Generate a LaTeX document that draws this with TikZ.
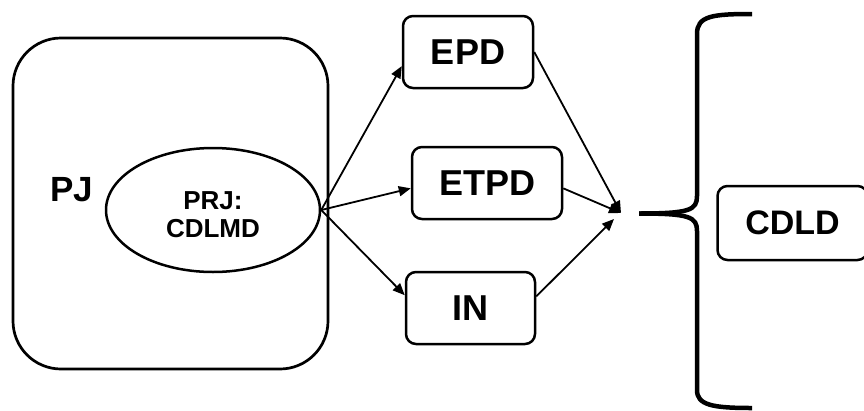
\documentclass[tikz,border=0pt]{standalone}
\usepackage{fontspec}
\setmainfont{Liberation Sans}
\usetikzlibrary{arrows.meta,shapes.geometric}
\begin{document}
\begin{tikzpicture}[x=1pt,y=-1pt,
  box/.style={draw,line width=2.5pt,rounded corners=10pt,inner sep=0pt,
    font=\bfseries\fontsize{36}{40}\selectfont},
  arr/.style={line width=1.8pt,-{Triangle[length=12pt,width=10pt]}},
  lbl/.style={inner sep=0pt,align=center}]
\useasboundingbox (0,0) rectangle (864,410);
\clip (0,0) rectangle (864,410);
% big rounded box
\node[draw,line width=2.7pt,rounded corners=48pt,minimum width=315pt,minimum height=331pt] (PJbox) at (170.5,203.5) {};
\node[lbl,font=\bfseries\fontsize{35}{38}\selectfont] (PJ) at (72,190) {PJ};
\node[draw,ellipse,line width=2.5pt,minimum width=214pt,minimum height=124pt,inner sep=0pt] (PRJ) at (213,210) {};
\node[lbl,font=\bfseries\fontsize{26}{27.5}\selectfont] (PRJt) at (213,214.5) {PRJ:\\CDLMD};
% boxes
\node[box,minimum width=130pt,minimum height=72pt] (EPD) at (468,52) {EPD};
\node[box,minimum width=150pt,minimum height=72pt] (ETPD) at (487,183) {ETPD};
\node[box,minimum width=129pt,minimum height=72pt] (IN) at (470.5,308) {IN};
\node[box,minimum width=150pt,minimum height=74pt,font=\bfseries\fontsize{34}{38}\selectfont] (CDLD) at (792.5,223) {CDLD};
% arrows
\coordinate (J1) at (621,213);
\coordinate (J2) at (614,219);
\draw[arr] (PRJ.east) -- (EPD.192);
\draw[arr] (PRJ.east) -- (ETPD.184);
\draw[arr] (PRJ.east) -- (IN.169);
\draw[arr] (EPD.east) -- (J1);
\draw[arr] (ETPD.-4) -- (J1);
\draw[arr] (IN.10) -- (J2);
% brace
\draw[line width=4.5pt] (752,14) .. controls (712,14) and (697,16) .. (697,34) -- (697,196) .. controls (697,210) and (690,213.5) .. (639,213.5);
\draw[line width=4.5pt] (639,213.5) .. controls (690,213.5) and (697,217) .. (697,231) -- (697,390) .. controls (697,405) and (712,408) .. (752,408);
\end{tikzpicture}
\end{document}
